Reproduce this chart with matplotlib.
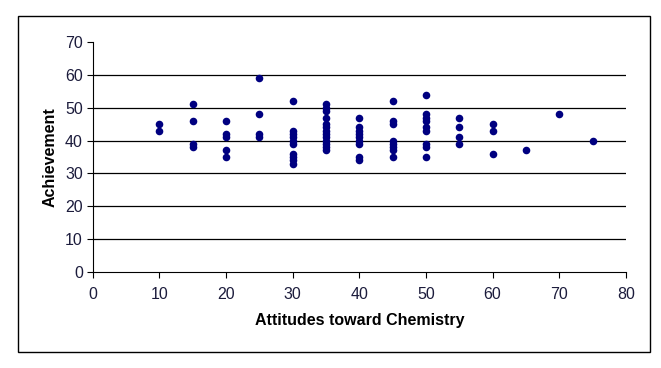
import numpy as np
import matplotlib.pyplot as plt
import matplotlib.patches as mpatches

# %% data (attitude score, achievement)

att_10 = [45, 43]
att_15 = [51, 46, 39, 38]
att_20 = [46, 42, 41, 37, 35]
att_25 = [59, 48, 42, 41]
att_30 = [52, 43, 42, 41, 40, 39, 36, 35, 34, 33]
att_35 = [51, 50, 49, 47, 45, 44, 43, 42, 41, 40, 39, 38, 37]
att_40 = [47, 44, 43, 42, 41, 40, 39, 35, 34]
att_45 = [52, 46, 45, 40, 39, 38, 37, 35]
att_50 = [54, 48, 47, 46, 44, 43, 39, 38, 35]
att_55 = [47, 44, 41, 39]
att_60 = [45, 43, 36]
att_65 = [37]
att_70 = [48]
att_75 = [40]

groups = {10: att_10, 15: att_15, 20: att_20, 25: att_25, 30: att_30,
          35: att_35, 40: att_40, 45: att_45, 50: att_50, 55: att_55,
          60: att_60, 65: att_65, 70: att_70, 75: att_75}

x = np.concatenate([[k] * len(v) for k, v in groups.items()])
y = np.concatenate([v for v in groups.values()])

# %% plot

plt.rcParams['font.family'] = ['Liberation Sans', 'DejaVu Sans']

fig = plt.figure(figsize=(6.61, 3.68), dpi=100)
ax = fig.add_axes([0.14, 0.261, 0.807, 0.625])

for yy in range(10, 70, 10):
    ax.axhline(yy, color='black', lw=0.9, zorder=1)

ax.scatter(x, y, s=30, color='#000080', zorder=3, linewidths=0)

ax.set_xlim(0, 80)
ax.set_ylim(0, 70)
ax.set_xticks(range(0, 81, 10))
ax.set_yticks(range(0, 71, 10))
ax.spines['top'].set_visible(False)
ax.spines['right'].set_visible(False)
ax.spines['left'].set_color('black')
ax.spines['bottom'].set_color('black')
ax.tick_params(direction='out', length=4, width=0.8, color='black',
               labelsize=11.5, labelcolor='#1c1c3c')
ax.tick_params(axis='x', pad=7)
ax.tick_params(axis='y', pad=3)

ax.set_xlabel('Attitudes toward Chemistry', fontsize=11.5, fontweight='bold', labelpad=8)
ax.set_ylabel('Achievement', fontsize=11.5, fontweight='bold', labelpad=5)

fig.patches.append(mpatches.Rectangle((18 / 661, 1 - 352 / 368), 632 / 661, 336 / 368,
                                      transform=fig.transFigure, fill=False,
                                      edgecolor='black', lw=1))

plt.savefig('out.png', dpi=100)
